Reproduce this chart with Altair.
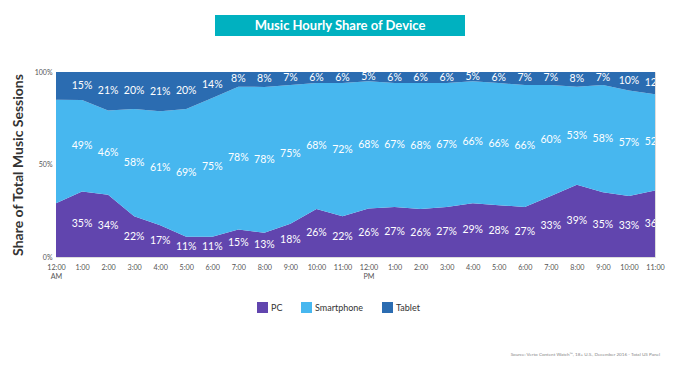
import json
import altair as alt
import pandas as pd

hour_labels = ["12:00 AM", "1:00", "2:00", "3:00", "4:00", "5:00", "6:00", "7:00", "8:00",
               "9:00", "10:00", "11:00", "12:00 PM", "1:00", "2:00", "3:00", "4:00", "5:00",
               "6:00", "7:00", "8:00", "9:00", "10:00", "11:00"]
devices = ["PC", "Smartphone", "Tablet"]
colors = ["#6145AE", "#47B7EF", "#2B6CB1"]
pc = [29, 35, 34, 22, 17, 11, 11, 15, 13, 18, 26, 22, 26, 27, 26, 27, 29, 28, 27, 33, 39, 35, 33, 36]
smartphone = [56, 49, 46, 58, 61, 69, 75, 78, 78, 75, 68, 72, 68, 67, 68, 67, 66, 66, 66, 60, 53, 58, 57, 52]
tablet = [15, 15, 21, 20, 21, 20, 14, 8, 8, 7, 6, 6, 5, 6, 6, 6, 5, 6, 7, 7, 8, 7, 10, 12]
title_text = "Music Hourly Share of Device"
y_title = "Share of Total Music Sessions"
source_text = "Source: Verto Content Watch\u2122, 18+ U.S., December 2016 - Total US Panel"

rows = []
for i in range(len(hour_labels)):
    for k, (d, vals) in enumerate(zip(devices, [pc, smartphone, tablet])):
        rows.append({"hour": i, "device": d, "order": k, "value": vals[i]})
df = pd.DataFrame(rows)

W, H = 599, 185
label_arr = json.dumps(hour_labels)

base = alt.Chart(df).transform_stack(
    stack="value", groupby=["hour"], as_=["y0", "y1"], offset="normalize",
    sort=[alt.SortField("order", order="ascending")]
).transform_calculate(mid="(datum.y0 + datum.y1) / 2")

xaxis = alt.Axis(values=list(range(24)), title=None, ticks=False, domain=False, grid=False,
                 labelExpr=f"split({label_arr}[datum.value], ' ')",
                 labelOverlap=False, labelFlush=False, labelFontSize=7.2, labelColor="#555555",
                 labelPadding=6, labelLineHeight=9, labelFont="Lato",
                 labelBaseline="top")
xscale = alt.Scale(domain=[0, 23], nice=False, zero=False)

yaxis = alt.Axis(values=[0, 0.5, 1], format=".0%", title=y_title, ticks=False,
                 domain=False, grid=False, labelFontSize=7, labelColor="#555555",
                 labelFont="Lato", labelPadding=4, labelFlush=False,
                 titleFont="Lato", titleFontSize=14, titleFontWeight="bold",
                 titleColor="#333333", titleAngle=-90, titleX=-38, titleY=H / 2,
                 titleAlign="center", titleBaseline="middle")
yscale = alt.Scale(domain=[0, 1])

area = base.mark_area(interpolate="linear").encode(
    x=alt.X("hour:Q", scale=xscale, axis=xaxis),
    y=alt.Y("y0:Q", scale=yscale, axis=yaxis),
    y2="y1:Q",
    color=alt.Color("device:N", scale=alt.Scale(domain=devices, range=colors),
                    legend=alt.Legend(title=None, orient="none", legendX=201, legendY=230,
                                      direction="horizontal", symbolType="square",
                                      symbolSize=121, symbolStrokeWidth=0, labelFontSize=9,
                                      labelFont="Lato", labelColor="#333333", labelOffset=3,
                                      columnPadding=18, padding=0)),
    order=alt.Order("order:Q"),
)

labels = base.transform_filter("datum.hour > 0").transform_calculate(
    lab="datum.value + '%'"
).mark_text(color="white", fontSize=10.5, font="Lato", clip=True, baseline="middle").encode(
    x=alt.X("hour:Q", scale=xscale, axis=xaxis),
    y=alt.Y("mid:Q", scale=yscale, axis=yaxis),
    text="lab:N"
)

one = pd.DataFrame({"t": [title_text], "s": [source_text]})
banner = alt.Chart(one).mark_rect(color="#00B1C0").encode(
    x=alt.value(159), x2=alt.value(409), y=alt.value(-57), y2=alt.value(-36)
)
banner_text = alt.Chart(one).mark_text(color="white", fontSize=13, fontWeight="bold",
                                       font="Lato", baseline="middle").encode(
    x=alt.value(284), y=alt.value(-46.5), text="t:N"
)
source = alt.Chart(one).mark_text(color="#888888", fontSize=4.6, font="Lato", align="right",
                                  baseline="middle").encode(
    x=alt.value(604), y=alt.value(282.7), text="s:N"
)

chart = alt.layer(area, labels, banner, banner_text, source).properties(
    width=W, height=H,
    autosize=alt.AutoSizeParams(type="none"),
    padding={"left": 48, "top": 64, "right": 17, "bottom": 107},
).configure_view(stroke=None).configure_axisX(labelOverlap=False).configure(background="white")

chart.save("out.html", embed_options={"renderer": "svg", "actions": False})
